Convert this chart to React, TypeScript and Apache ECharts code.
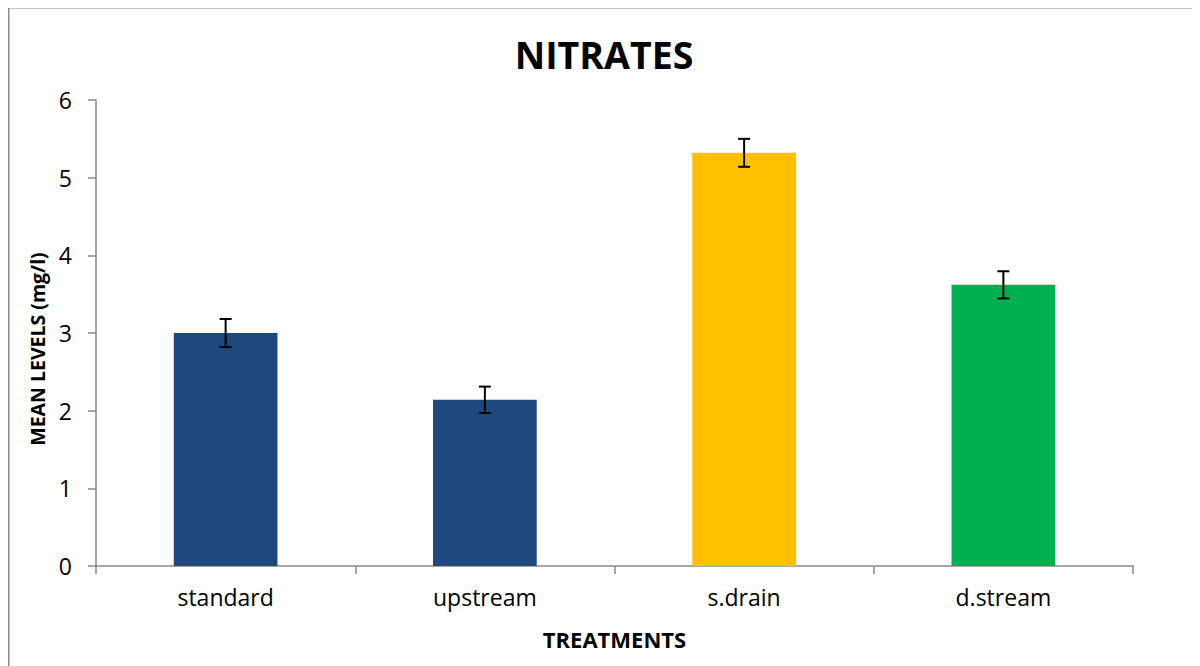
import React, { useEffect, useRef } from "react";
import * as echarts from "echarts";

const categories = ["standard", "upstream", "s.drain", "d.stream"];
const meanValues = [3.0, 2.14, 5.32, 3.62];
const errorValues = [0.18, 0.17, 0.18, 0.175];
const barColors = ["#1F497D", "#1F497D", "#FFC000", "#00B050"];
const yTicks = [0, 1, 2, 3, 4, 5, 6];

export default function App() {
  const ref = useRef<HTMLDivElement>(null);
  useEffect(() => {
    if (!ref.current) return;
    const chart = echarts.init(ref.current, null, { renderer: "svg" });
    const font = "'Open Sans', sans-serif";
    chart.setOption({
      animation: false,
      backgroundColor: "#ffffff",
      textStyle: { fontFamily: font },
      graphic: [
        {
          type: "rect",
          shape: { x: 0.5, y: -0.5, width: 1400, height: 900 },
          style: { fill: "none", stroke: "#8c8c8c", lineWidth: 2 },
          silent: true,
        },
      ],
      title: {
        text: "NITRATES",
        left: "center",
        top: 22,
        textStyle: { fontFamily: font, fontSize: 37.5, fontWeight: "bold", color: "#000" },
      },
      grid: { left: 88, right: 67, top: 92, bottom: 100 },
      xAxis: {
        type: "category",
        data: categories,
        name: "TREATMENTS",
        nameLocation: "middle",
        nameGap: 62,
        nameTextStyle: { fontFamily: font, fontSize: 22, fontWeight: "bold", color: "#000" },
        axisLine: { lineStyle: { color: "#898989", width: 1.5 } },
        axisTick: { show: true, alignWithLabel: false, length: 8, lineStyle: { color: "#898989", width: 1.5 } },
        axisLabel: { fontFamily: font, fontSize: 23, color: "#000", margin: 19 },
      },
      yAxis: {
        type: "value",
        min: yTicks[0],
        max: yTicks[yTicks.length - 1],
        interval: 1,
        name: "MEAN LEVELS (mg/l)",
        nameLocation: "middle",
        nameGap: 42,
        nameTextStyle: {
          fontFamily: font,
          fontSize: 19.5,
          fontWeight: "bold",
          color: "#000",
          padding: [0, 32, 0, 0],
        },
        axisLine: { show: true, lineStyle: { color: "#898989", width: 1.5 } },
        axisTick: { show: true, length: 8, lineStyle: { color: "#898989", width: 1.5 } },
        axisLabel: { fontFamily: font, fontSize: 23, color: "#000", margin: 24 },
        splitLine: { show: false },
      },
      series: [
        {
          type: "bar",
          barWidth: "40%",
          data: meanValues.map((v, i) => ({ value: v, itemStyle: { color: barColors[i] } })),
          z: 2,
        },
        {
          type: "custom",
          z: 10,
          data: meanValues.map((v, i) => [i, v - errorValues[i], v + errorValues[i]]),
          renderItem: (params: any, api: any) => {
            const x = api.value(0);
            const lo = api.coord([x, api.value(1)]);
            const hi = api.coord([x, api.value(2)]);
            const cap = 6;
            const style = { stroke: "#000", lineWidth: 2 };
            return {
              type: "group",
              children: [
                { type: "line", shape: { x1: hi[0], y1: hi[1], x2: lo[0], y2: lo[1] }, style },
                { type: "line", shape: { x1: hi[0] - cap, y1: hi[1], x2: hi[0] + cap, y2: hi[1] }, style },
                { type: "line", shape: { x1: lo[0] - cap, y1: lo[1], x2: lo[0] + cap, y2: lo[1] }, style },
              ],
            };
          },
        },
      ],
    });
    return () => chart.dispose();
  }, []);
  return <div ref={ref} style={{ width: 1192, height: 658 }} />;
}
